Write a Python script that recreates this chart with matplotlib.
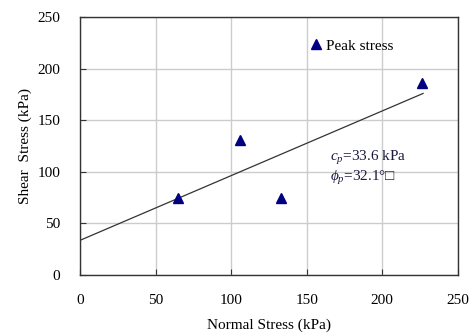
import matplotlib
matplotlib.use("Agg")
import matplotlib.pyplot as plt
import numpy as np

plt.rcParams['font.family'] = ['Liberation Serif', 'DejaVu Serif']
plt.rcParams['mathtext.fontset'] = 'custom'
plt.rcParams['mathtext.rm'] = 'Liberation Serif'
plt.rcParams['mathtext.it'] = 'Liberation Serif:italic'

normal_stress = [65, 106, 133, 226]
shear_stress = [75, 131, 75, 186]
cohesion = 33.6
friction_angle = 32.1
fit_x = [0, 227]
x_ticks = [0, 50, 100, 150, 200, 250]
y_ticks = [0, 50, 100, 150, 200, 250]

fig = plt.figure(figsize=(4.73, 3.35), dpi=100)
ax = fig.add_axes([0.169, 0.179, 0.799, 0.770])

fx = np.array(fit_x, dtype=float)
fy = cohesion + np.tan(np.radians(friction_angle)) * fx
ax.plot(fx, fy, color='#333333', lw=0.9, zorder=3)
ax.plot(normal_stress, shear_stress, linestyle='none', marker='^', ms=7,
        color='#000080', label='Peak stress', zorder=4)

ax.set_xlim(0, 250)
ax.set_ylim(0, 250)
ax.set_xticks(x_ticks)
ax.set_yticks(y_ticks)
ax.grid(True, color='#cccccc', lw=1.0)
ax.set_axisbelow(True)
for s in ax.spines.values():
    s.set_color('#333333')
    s.set_linewidth(1.0)
ax.tick_params(direction='in', length=4, labelsize=11, color='#333333')
ax.tick_params(axis='x', pad=14)
ax.tick_params(axis='y', pad=14)
ax.set_xlabel('Normal Stress (kPa)', fontsize=11, labelpad=8)
ax.set_ylabel('Shear  Stress (kPa)', fontsize=11, labelpad=4)

leg = ax.legend(loc='upper left', bbox_to_anchor=(0.575, 0.95), frameon=False,
                fontsize=11, handletextpad=0.1, handlelength=1.2,
                borderaxespad=0.2)

ax.text(0.661, 0.455, r'$c_p$=33.6 kPa', transform=ax.transAxes, fontsize=11,
        color='#1a1a40', ha='left', va='center')
ax.text(0.661, 0.375, r'$\phi_p$=32.1°□', transform=ax.transAxes, fontsize=11,
        color='#1a1a40', ha='left', va='center')

fig.savefig('out.png', dpi=100)
